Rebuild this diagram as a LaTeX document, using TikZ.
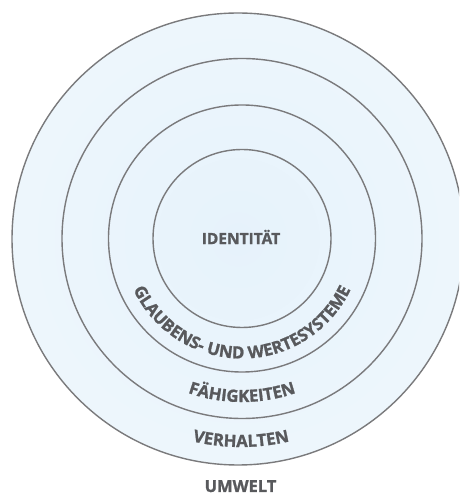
\documentclass[tikz,border=0pt]{standalone}
\usepackage{fontspec}
\setsansfont{Open Sans}[BoldFeatures={FakeBold=1.2}]
\usetikzlibrary{decorations.text}
\definecolor{ringline}{HTML}{7A7A7C}
\definecolor{txt}{HTML}{58595C}
\definecolor{sh0}{HTML}{E6F2FB}
\definecolor{sh1}{HTML}{EBF5FC}
\definecolor{sh2}{HTML}{F0F8FD}
\definecolor{sh3}{HTML}{F5FAFE}
\pgfdeclareradialshading{ringshade}{\pgfpoint{0bp}{0bp}}{color(0bp)=(sh0); color(18bp)=(sh1); color(32bp)=(sh2); color(46bp)=(sh3); color(50bp)=(sh3)}
\tikzset{
  ring/.style={draw=ringline, line width=1.4pt},
  lbl/.style={font=\sffamily\bfseries\fontsize{16.5}{16.5}\selectfont, text=txt, inner sep=0pt},
  arclbl/.style={decorate, decoration={text along path, text align=center, text color=txt,
     text={|\sffamily\bfseries\fontsize{16.8}{16.8}\selectfont|#1}}}
}
\begin{document}
\begin{tikzpicture}[x=1pt,y=1pt]
\useasboundingbox (0,0) rectangle (459,495);
\clip (0,0) rectangle (459,495);
\fill[white] (0,0) rectangle (459,495);
\coordinate (C) at (242,256.5);
\coordinate (CO) at (238,256);
\shade[shading=ringshade] (CO) circle[radius=226];
\draw[ring] (CO) circle[radius=226];
\draw[ring] (C) circle[radius=180];
\draw[ring] (C) circle[radius=133.5];
\draw[ring] (C) circle[radius=89];
\node[lbl, font=\sffamily\bfseries\fontsize{15.5}{15.5}\selectfont] (ident) at (241,258) {IDENTITÄT};
\path[arclbl={GLAUBENS- UND WERTESYSTEME}] (C) ++(185:120) arc[start angle=185, end angle=355, radius=120];
\path[arclbl={FÄHIGKEITEN}] (C) ++(220:163.5) arc[start angle=220, end angle=320, radius=163.5];
\path[arclbl={VERHALTEN}] (241,256.5) ++(230:208.5) arc[start angle=230, end angle=310, radius=208.5];
\node[lbl, anchor=base] (umwelt) at (240.5,3) {UMWELT};
\end{tikzpicture}
\end{document}
